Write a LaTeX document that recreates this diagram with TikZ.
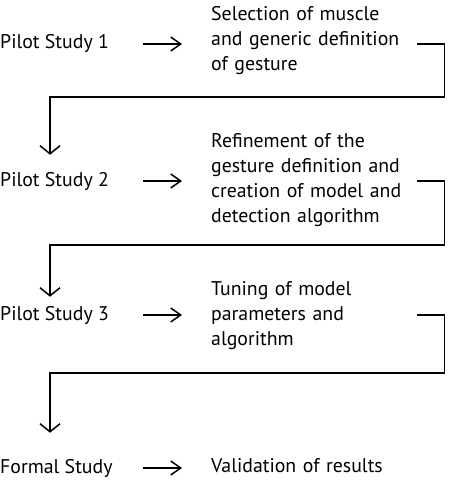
\documentclass[tikz,border=0pt]{standalone}
\usepackage{fontspec}
\setmainfont{PT Sans}
\usetikzlibrary{arrows.meta}

\begin{document}
\begin{tikzpicture}[x=1pt,y=-1pt]
\tikzstyle{stage}=[inner sep=0, anchor=base west, font=\fontsize{19.8}{25}\selectfont]
\tikzstyle{task}=[inner sep=0, anchor=west, text width=206pt, align=left, font=\fontsize{19.8}{25}\selectfont]
\tikzstyle{connect}=[line width=1.5pt, -{Straight Barb[length=10pt,width=14pt]}]
\tikzstyle{next}=[line width=1.5pt, -{Straight Barb[length=8pt,width=20pt]}]
\useasboundingbox (0,0) rectangle (452,484);
	\node[stage] (pilot_1) at (0,49) {Pilot Study 1};
	\node[stage] (pilot_2) at (0,186) {Pilot Study 2};
	\node[stage] (pilot_3) at (0,320) {Pilot Study 3};
	\node[stage] (formal) at (0,473) {Formal Study};
	\node[task] (task_1) at (211,41) {Selection of muscle\\and generic definition\\of gesture};
	\node[task] (task_2) at (211,180) {Refinement of the\\gesture definition and\\creation of model and\\detection algorithm};
	\node[task] (task_3) at (211,316) {Tuning of model\\parameters and\\algorithm};
	\node[task] (task_f) at (211,466) {Validation of results};
	\coordinate (bend_1) at (50,97);
	\coordinate (bend_2) at (50,245);
	\coordinate (bend_3) at (50,373);

	\draw[connect] ([xshift=-68pt]task_1.west |- pilot_1.east) -- ([xshift=-29pt]task_1.west |- pilot_1.east);
	\draw[connect] ([xshift=-68pt]task_2.west |- pilot_2.east) -- ([xshift=-29pt]task_2.west |- pilot_2.east);
	\draw[connect] ([xshift=-68pt]task_3.west |- pilot_3.east) -- ([xshift=-29pt]task_3.west |- pilot_3.east);
	\draw[connect] ([xshift=-68pt]task_f.west |- formal.east) -- ([xshift=-29pt]task_f.west |- formal.east);

	\draw[next] (task_1.east |- pilot_1.east) -- ++(27,0) |- (bend_1) -- ([yshift=17pt]pilot_2.north -| bend_1);
	\draw[next] (task_2.east |- pilot_2.east) -- ++(27,0) |- (bend_2) -- ([yshift=9pt]pilot_3.north -| bend_2);
	\draw[next] (task_3.east |- pilot_3.east) -- ++(27,0) |- (bend_3) -- ([yshift=26pt]formal.north -| bend_3);
\end{tikzpicture}
\end{document}
